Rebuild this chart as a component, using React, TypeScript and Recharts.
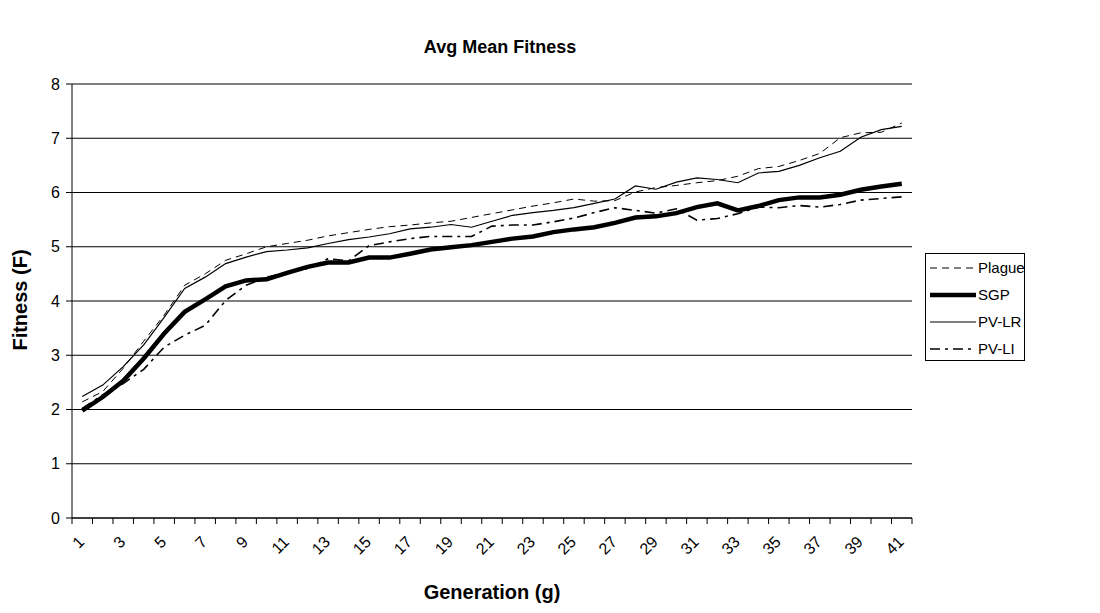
import { LineChart, Line, XAxis, YAxis, CartesianGrid } from 'recharts';

const generations = [
  1, 2, 3, 4, 5, 6, 7, 8, 9, 10, 11, 12, 13, 14, 15, 16, 17, 18, 19, 20, 21,
  22, 23, 24, 25, 26, 27, 28, 29, 30, 31, 32, 33, 34, 35, 36, 37, 38, 39, 40, 41,
];

const plague = [
  2.14, 2.33, 2.76, 3.26, 3.74, 4.29, 4.5, 4.75, 4.87, 5.0, 5.06, 5.12, 5.2, 5.26, 5.32, 5.37, 5.4, 5.44, 5.47, 5.54, 5.61,
  5.68, 5.75, 5.81, 5.88, 5.84, 5.85, 6.01, 6.09, 6.13, 6.18, 6.22, 6.3, 6.44, 6.48, 6.59, 6.72, 7.01, 7.1, 7.11, 7.28,
];

const sgp = [
  1.98, 2.23, 2.53, 2.94, 3.4, 3.8, 4.03, 4.27, 4.38, 4.4, 4.52, 4.63, 4.71, 4.71, 4.8, 4.8, 4.87, 4.95, 4.99, 5.03, 5.09,
  5.15, 5.19, 5.27, 5.32, 5.36, 5.44, 5.54, 5.56, 5.62, 5.73, 5.8, 5.67, 5.75, 5.86, 5.91, 5.91, 5.96, 6.05, 6.11, 6.16,
];

const pvLR = [
  2.24, 2.45, 2.79, 3.19, 3.7, 4.23, 4.44, 4.69, 4.81, 4.91, 4.94, 4.98, 5.06, 5.13, 5.18, 5.24, 5.33, 5.36, 5.41, 5.36, 5.47,
  5.58, 5.63, 5.67, 5.72, 5.8, 5.88, 6.12, 6.06, 6.19, 6.27, 6.24, 6.18, 6.36, 6.39, 6.5, 6.64, 6.76, 7.02, 7.16, 7.22,
];

const pvLI = [
  2.02, 2.27, 2.48, 2.74, 3.15, 3.37, 3.55, 4.01, 4.29, 4.44, 4.53, 4.6, 4.78, 4.74, 5.02, 5.09, 5.15, 5.19, 5.19, 5.19, 5.38,
  5.4, 5.4, 5.46, 5.53, 5.63, 5.72, 5.67, 5.62, 5.7, 5.49, 5.52, 5.61, 5.73, 5.72, 5.76, 5.73, 5.78, 5.86, 5.89, 5.92,
];

const yTicks = [0, 1, 2, 3, 4, 5, 6, 7, 8];
const xLabels = [1, 3, 5, 7, 9, 11, 13, 15, 17, 19, 21, 23, 25, 27, 29, 31, 33, 35, 37, 39, 41];

const data = generations.map((g, i) => ({
  gen: g,
  plague: plague[i],
  sgp: sgp[i],
  pvLR: pvLR[i],
  pvLI: pvLI[i],
}));

// tick marks sit between categories, labels on odd generations
const xTicks = [...generations.flatMap((g) => [g - 0.5, g]), generations[generations.length - 1] + 0.5];

const series = [
  { key: 'plague', name: 'Plague', width: 1, dash: '7 5' },
  { key: 'sgp', name: 'SGP', width: 4.5, dash: undefined },
  { key: 'pvLR', name: 'PV-LR', width: 1.2, dash: undefined },
  { key: 'pvLI', name: 'PV-LI', width: 1.6, dash: '10 5 3 5' },
];

const FONT = '"Liberation Sans", Arial, sans-serif';

function GenTick(props: any) {
  const { x, y, payload } = props;
  const v = payload.value;
  if (v % 1 !== 0) {
    return <line x1={x} x2={x} y1={y} y2={y + 6} stroke="#000" />;
  }
  if (!xLabels.includes(v)) return <g />;
  const ax = x + 3;
  const ay = y + 25;
  return (
    <text
      x={ax}
      y={ay}
      transform={`rotate(-45 ${ax} ${ay})`}
      textAnchor="end"
      fontSize={16}
      fontFamily={FONT}
      fill="#000"
    >
      {v}
    </text>
  );
}

export default function App() {
  return (
    <div style={{ position: 'absolute', left: 0, top: 0, width: 1100, height: 613, background: '#fff', fontFamily: FONT }}>
      <div
        style={{
          position: 'absolute', left: 300, top: 38, width: 400, textAlign: 'center',
          fontSize: 18, fontWeight: 'bold', lineHeight: '18px',
        }}
      >
        Avg Mean Fitness
      </div>
      <LineChart width={1100} height={613} data={data} margin={{ top: 84, right: 188, bottom: 0, left: 0 }}>
        <CartesianGrid vertical={false} stroke="#000" />
        <XAxis
          dataKey="gen"
          type="number"
          domain={[0.5, 41.5]}
          ticks={xTicks}
          interval={0}
          tickSize={0}
          tickMargin={0}
          tickLine={false}
          tick={<GenTick />}
          axisLine={{ stroke: '#000' }}
          height={95}
        />
        <YAxis
          domain={[0, 8]}
          ticks={yTicks}
          interval={0}
          width={72}
          tickSize={6}
          tickMargin={6}
          tickLine={{ stroke: '#000' }}
          axisLine={{ stroke: '#000' }}
          tick={{ fill: '#000', fontSize: 16, fontFamily: FONT }}
        />
        <YAxis
          yAxisId="frame"
          orientation="right"
          domain={[0, 8]}
          width={0}
          tick={false}
          tickLine={false}
          axisLine={{ stroke: '#808080', strokeWidth: 1.5 }}
        />
        {series.map((s) => (
          <Line
            key={s.key}
            dataKey={s.key}
            name={s.name}
            type="linear"
            stroke="#000"
            strokeWidth={s.width}
            strokeDasharray={s.dash}
            dot={false}
            activeDot={false}
            isAnimationActive={false}
          />
        ))}
      </LineChart>
      <div
        style={{
          position: 'absolute', left: 0, top: 582, width: 984, textAlign: 'center',
          fontSize: 20, fontWeight: 'bold', lineHeight: '20px',
        }}
      >
        Generation (g)
      </div>
      <div
        style={{
          position: 'absolute', left: -80, top: 288, width: 200, height: 24, textAlign: 'center',
          fontSize: 20, fontWeight: 'bold', lineHeight: '24px', transform: 'rotate(-90deg)',
        }}
      >
        Fitness (F)
      </div>
      <div
        style={{
          position: 'absolute', left: 925, top: 253, width: 100, height: 108, boxSizing: 'border-box',
          border: '1px solid #000', padding: '0 0 0 3px', whiteSpace: 'nowrap',
        }}
      >
        {series.map((s) => (
          <div key={s.key} style={{ display: 'flex', alignItems: 'center', height: 27, fontSize: 15 }}>
            <svg width={48} height={10} style={{ marginRight: 1, flexShrink: 0 }}>
              <line x1={1} x2={47} y1={5} y2={5} stroke="#000" strokeWidth={s.width} strokeDasharray={s.dash} />
            </svg>
            <span>{s.name}</span>
          </div>
        ))}
      </div>
    </div>
  );
}
